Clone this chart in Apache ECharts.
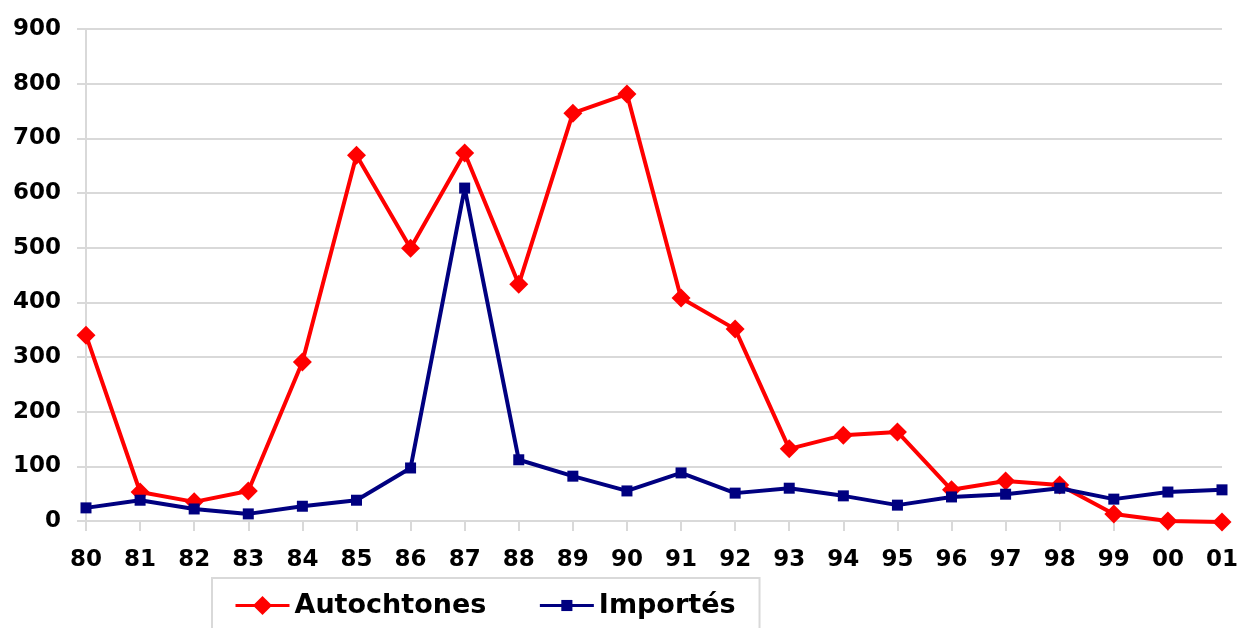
<!DOCTYPE html>
<html>
<head>
<meta charset="utf-8">
<script src="https://cdn.jsdelivr.net/npm/echarts@6/dist/echarts.min.js"></script>
<style>html,body{margin:0;padding:0;background:#fff}#c{width:1241px;height:628px}</style>
</head>
<body>
<div id="c"></div>
<script>
const categories = ['80','81','82','83','84','85','86','87','88','89','90','91','92','93','94','95','96','97','98','99','00','01'];
const autochtones = [340, 53, 35, 55, 291, 669, 499, 673, 433, 746, 781, 408, 351, 132, 157, 163, 57, 73, 66, 13, 0, -2];
const importes = [24, 38, 22, 13, 27, 38, 97, 609, 112, 82, 55, 88, 51, 60, 46, 29, 44, 49, 60, 40, 53, 57];
const seriesNames = ['Autochtones', 'Importés'];

const FONT = '"DejaVu Sans", Verdana, sans-serif';
// small square inside a larger invisible bounding box so the marker keeps the reference proportions
const SQUARE = 'path://M0,0M19,19M4,4h11v11h-11Z';

const chart = echarts.init(document.getElementById('c'), null, { renderer: 'canvas' });
chart.setOption({
  animation: false,
  backgroundColor: '#fff',
  grid: { left: 86, right: 14, top: 29, bottom: 107, containLabel: false },
  legend: {
    data: seriesNames,
    left: 212,
    top: 578,
    orient: 'horizontal',
    padding: [14, 24, 30, 22],
    itemGap: 52,
    itemWidth: 54,
    itemHeight: 24,
    borderColor: '#d9d9d9',
    borderWidth: 2,
    lineStyle: { width: 3 },
    textStyle: { fontSize: 27, fontWeight: 'bold', fontFamily: FONT, color: '#000' }
  },
  xAxis: {
    type: 'category',
    data: categories,
    boundaryGap: false,
    axisLine: { show: true, lineStyle: { color: '#d9d9d9', width: 2 } },
    axisTick: { show: true, alignWithLabel: true, length: 10, lineStyle: { color: '#d9d9d9', width: 2 } },
    axisLabel: { margin: 28, interval: 0, fontSize: 23, fontWeight: 'bold', fontFamily: FONT, color: '#000' },
    splitLine: { show: false }
  },
  yAxis: {
    type: 'value',
    min: 0,
    max: 900,
    interval: 100,
    axisLine: { show: true, lineStyle: { color: '#d9d9d9', width: 2 } },
    axisTick: { show: true, length: 9, lineStyle: { color: '#d9d9d9', width: 2 } },
    axisLabel: { margin: 25, fontSize: 23, fontWeight: 'bold', fontFamily: FONT, color: '#000' },
    splitLine: { show: true, lineStyle: { color: '#d9d9d9', width: 2 } }
  },
  series: [
    {
      name: seriesNames[0],
      type: 'line',
      data: autochtones,
      clip: false,
      symbol: 'diamond',
      symbolSize: [19, 19],
      lineStyle: { color: '#ff0000', width: 4 },
      itemStyle: { color: '#ff0000' },
      z: 2
    },
    {
      name: seriesNames[1],
      type: 'line',
      data: importes,
      clip: false,
      symbol: SQUARE,
      symbolSize: 19,
      lineStyle: { color: '#000080', width: 4 },
      itemStyle: { color: '#000080' },
      z: 3
    }
  ]
});
</script>
</body>
</html>
